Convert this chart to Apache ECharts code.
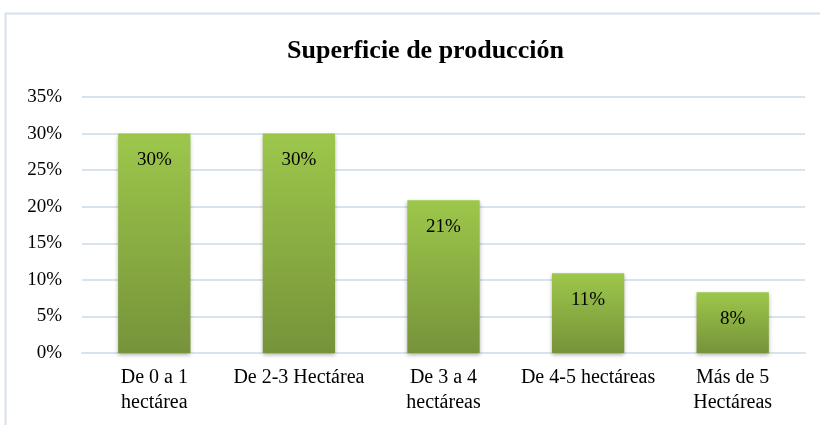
<!DOCTYPE html>
<html>
<head>
<meta charset="utf-8">
<script src="https://cdn.jsdelivr.net/npm/echarts@6/dist/echarts.min.js"></script>
<style>
  html, body { margin: 0; padding: 0; background: #fff; }
  #chart { width: 820px; height: 425px; }
</style>
</head>
<body>
<div id="chart"></div>
<script>
// categorias del eje x
const categories = [
    'De 0 a 1\nhectárea',
    'De 2-3 Hectárea',
    'De 3 a 4\nhectáreas',
    'De 4-5 hectáreas',
    'Más de 5\nHectáreas'
];
// porcentaje de productores
const values = [0.30, 0.30, 0.209, 0.109, 0.083];
const yTicks = { min: 0, max: 0.35, interval: 0.05 };

const serif = '"Liberation Serif", "DejaVu Serif", serif';
const gridColor = '#d9e3f0';

let chart = echarts.init(document.getElementById('chart'));
let option = {
    animation: false,
    textStyle: { fontFamily: serif },
    title: {
        text: 'Superficie de producción',
        left: 282,
        top: 33,
        textStyle: { fontFamily: serif, fontSize: 26, fontWeight: 'bold', color: '#000' }
    },
    graphic: [{
        type: 'rect',
        shape: { x: 5.5, y: 13.5, width: 900, height: 500 },
        style: { fill: 'none', stroke: '#d5dfee', lineWidth: 2 },
        silent: true
    }],
    grid: { left: 82, right: 15, top: 97, bottom: 72, containLabel: false },
    xAxis: {
        type: 'category',
        data: categories,
        axisTick: { show: false },
        axisLine: { lineStyle: { color: gridColor, width: 2 } },
        axisLabel: {
            color: '#000', fontFamily: serif, fontSize: 20,
            lineHeight: 25, margin: 12, interval: 0
        }
    },
    yAxis: {
        type: 'value',
        min: yTicks.min,
        max: yTicks.max,
        interval: yTicks.interval,
        axisLine: { show: false },
        axisTick: { show: false },
        splitLine: { lineStyle: { color: gridColor, width: 2 } },
        axisLabel: {
            color: '#000', fontFamily: serif, fontSize: 19, margin: 20,
            formatter: (v) => Math.round(v * 100) + '%'
        }
    },
    series: [{
        type: 'bar',
        data: values,
        barWidth: '50%',
        itemStyle: {
            color: new echarts.graphic.LinearGradient(0, 0, 0, 1, [
                { offset: 0, color: '#9dc74b' },
                { offset: 1, color: '#76933a' }
            ]),
            shadowBlur: 4,
            shadowColor: 'rgba(0,0,0,0.3)',
            shadowOffsetY: 2
        },
        label: {
            show: true,
            position: 'insideTop',
            distance: 17,
            color: '#000',
            fontFamily: serif,
            fontSize: 19,
            formatter: (p) => Math.round(p.value * 100) + '%'
        }
    }]
};
chart.setOption(option);
</script>
</body>
</html>
